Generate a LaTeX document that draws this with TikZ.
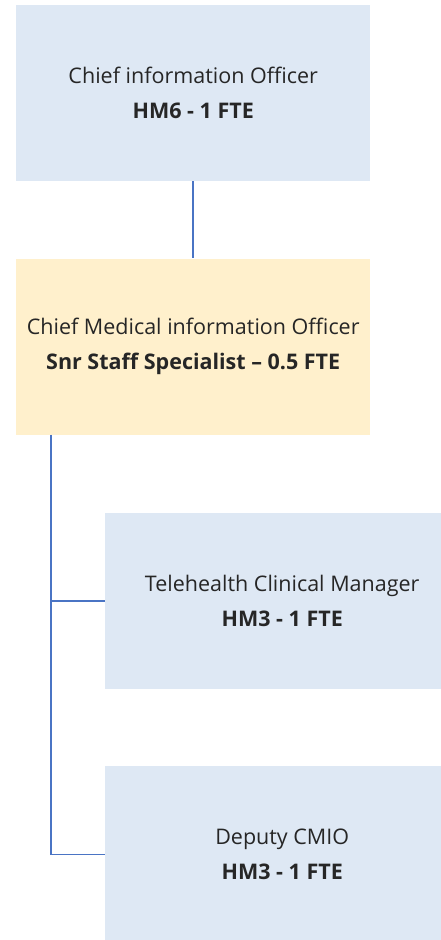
\documentclass[tikz,border=0pt]{standalone}
\usepackage{fontspec}
\setmainfont{Open Sans}
\usetikzlibrary{positioning}
\definecolor{roleblue}{HTML}{DEE8F4}
\definecolor{leadyellow}{HTML}{FFF0CC}
\definecolor{linkblue}{HTML}{4A74C4}

\begin{document}
\begin{tikzpicture}[x=1pt,y=1pt,
		box/.style={minimum width=354pt, minimum height=176pt, inner sep=0pt,
					align=center, text=black!85, font=\fontsize{21.5}{35}\selectfont},
		role/.style={box, fill=roleblue},
		lead/.style={box, fill=leadyellow},
		link/.style={linkblue, line width=1.6pt}
	]
		\useasboundingbox (0,0) rectangle (441,-940);
		\clip (0,0) rectangle (441,-940);
		\node[role, anchor=north west] (cio) at (16,-5) {Chief information Officer\\\textbf{HM6 - 1 FTE}};
		\node[lead, below=77pt of cio] (cmio) {Chief Medical information Officer\\\textbf{Snr Staff Specialist -- 0.5 FTE}};
		\node[role, anchor=north west] (tele) at ([xshift=89pt, yshift=-78pt]cmio.south west) {Telehealth Clinical Manager\\\textbf{HM3 - 1 FTE}};
		\node[role, below=77pt of tele] (dep) {Deputy CMIO\\\textbf{HM3 - 1 FTE}};
		\coordinate (spine) at ([xshift=35pt]cmio.south west);

		\draw[link] (cio) -- (cmio);
		\draw[link] (spine) |- (tele);
		\draw[link] (spine) |- (dep);
	\end{tikzpicture}
\end{document}
